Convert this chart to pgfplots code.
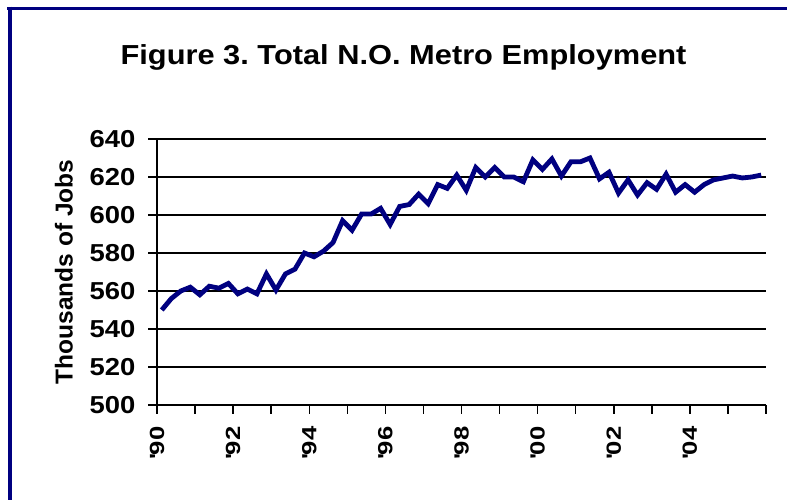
\documentclass[border=0pt]{standalone}
\usepackage{pgfplots}
\pgfplotsset{compat=1.18}
\usepackage{fontspec}
\setmainfont{Liberation Sans}
\newfontfamily\widesans[FakeStretch=1.12]{Liberation Sans}
\newfontfamily\widersans[FakeStretch=1.25]{Liberation Sans}
\definecolor{navyline}{RGB}{0,0,128}
\frenchspacing

% quarterly totals, thousands of jobs
\pgfplotstableread{
t value
1990.125 550
1990.375 556
1990.625 560
1990.875 562
1991.125 558
1991.375 562.5
1991.625 561.5
1991.875 564
1992.125 558.5
1992.375 561
1992.625 558.5
1992.875 569
1993.125 560.5
1993.375 569
1993.625 571.5
1993.875 580
1994.125 578
1994.375 581
1994.625 585.5
1994.875 597
1995.125 592
1995.375 600.5
1995.625 600.5
1995.875 603.5
1996.125 595
1996.375 604.5
1996.625 605.5
1996.875 611
1997.125 606
1997.375 616
1997.625 614
1997.875 621
1998.125 613
1998.375 625
1998.625 620
1998.875 625
1999.125 620
1999.375 620
1999.625 617.5
1999.875 629
2000.125 624
2000.375 629.5
2000.625 620.5
2000.875 628
2001.125 628
2001.375 630
2001.625 619
2001.875 622.5
2002.125 611.5
2002.375 618.5
2002.625 610.5
2002.875 617
2003.125 613.5
2003.375 621.5
2003.625 612
2003.875 616
2004.125 612
2004.375 616
2004.625 618.5
2004.875 619.5
2005.125 620.5
2005.375 619.5
2005.625 620
2005.875 621
}\employment

\begin{document}
\begin{tikzpicture}[x=1pt,y=1pt]
\useasboundingbox (0,0) rectangle (787,500);
\fill[white] (0,0) rectangle (787,500);
\begin{axis}[
    at={(157pt,95pt)}, anchor=south west,
    scale only axis,
    width=609pt, height=266pt,
    xmin=1990, xmax=2006,
    ymin=500, ymax=640,
    xtick={1990,1991,...,2006},
    xticklabels={{\textquotesingle}90,,{\textquotesingle}92,,{\textquotesingle}94,,{\textquotesingle}96,,{\textquotesingle}98,,{\textquotesingle}00,,{\textquotesingle}02,,{\textquotesingle}04,,},
    ytick={500,520,...,640},
    ymajorgrids,
    grid style={black, line width=1.3pt},
    axis x line*=bottom,
    axis y line*=left,
    axis line style={black, line width=1.5pt, -},
    tick style={black, line width=1.5pt},
    tick align=outside,
    major tick length=9pt,
    /pgf/number format/assume math mode=true,
    yticklabel style={font=\widesans\fontsize{24.5}{28}\selectfont\bfseries},
    yticklabel shift=9pt,
    xticklabel style={font=\widersans\fontsize{20.5}{24}\selectfont\bfseries, rotate=90, anchor=east},
    xticklabel shift=9pt,
    ylabel={Thousands of Jobs},
    every axis y label/.style={at={(axis description cs:-0.153,0.5)}, rotate=90, anchor=center},
    ylabel style={font=\fontsize{24.5}{28}\selectfont\bfseries},
    clip=false,
]
\addplot[navyline, line width=4.8pt, line join=miter] table[x=t, y=value] {\employment};
\end{axis}
\node[font=\widesans\fontsize{27.5}{32}\selectfont\bfseries] at (403.5,443) {Figure 3. Total N.O. Metro Employment};
\draw[navyline, line width=3.6pt] (7,491.5) -- (800,491.5);
\draw[navyline, line width=3.6pt] (10,493.3) -- (10,-10);
\end{tikzpicture}
\end{document}
